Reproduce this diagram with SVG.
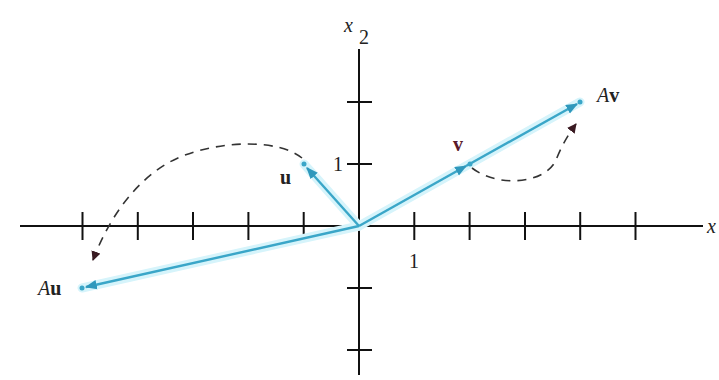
<svg xmlns="http://www.w3.org/2000/svg" width="719" height="380" viewBox="0 0 719 380">
<style>
.ax{stroke:#111;stroke-width:2;fill:none}
.vec{stroke:#3aa6c8;stroke-width:2.4;fill:none}
.glow{stroke:#d6f4fb;stroke-width:9;fill:none;stroke-linecap:round}
.dash{stroke:#333;stroke-width:1.6;fill:none;stroke-dasharray:9 7}
.t{font-family:"Liberation Serif","Times New Roman",serif;font-size:20px;fill:#222}
.b{font-weight:bold}
.dot{fill:#3aa6c8}
</style>
<defs>
<marker id="va" viewBox="0 0 10 10" refX="9" refY="5" markerWidth="5" markerHeight="5" orient="auto" markerUnits="strokeWidth">
<path d="M0,1 L10,5 L0,9 Z" fill="#2f98bc"/>
</marker>
<marker id="da" viewBox="0 0 10 10" refX="9" refY="5" markerWidth="6" markerHeight="6" orient="auto" markerUnits="strokeWidth">
<path d="M0,0 L10,5 L0,10 Z" fill="#3a1a22"/>
</marker>
</defs>
<g id="axes">
<line class="ax" x1="20" y1="226" x2="703" y2="226"/>
<line class="ax" x1="359" y1="49" x2="359" y2="375"/>
<g class="ax">
<line x1="82.5" y1="212" x2="82.5" y2="240"/>
<line x1="137.8" y1="212" x2="137.8" y2="240"/>
<line x1="193" y1="212" x2="193" y2="240"/>
<line x1="248.4" y1="212" x2="248.4" y2="240"/>
<line x1="303.7" y1="212" x2="303.7" y2="240"/>
<line x1="414.3" y1="212" x2="414.3" y2="240"/>
<line x1="469.6" y1="212" x2="469.6" y2="240"/>
<line x1="525" y1="212" x2="525" y2="240"/>
<line x1="580.2" y1="212" x2="580.2" y2="240"/>
<line x1="635.5" y1="212" x2="635.5" y2="240"/>
<line x1="347" y1="102" x2="372" y2="102"/>
<line x1="347" y1="164" x2="372" y2="164"/>
<line x1="347" y1="288" x2="372" y2="288"/>
<line x1="347" y1="350" x2="372" y2="350"/>
</g>
<text class="t" x="707" y="233" font-style="italic">x</text>
<text class="t" x="344" y="32" font-style="italic">x</text>
<text class="t" x="359" y="44" font-size="14">2</text>
<text class="t" x="333" y="171">1</text>
<text class="t" x="409" y="268">1</text>
</g>
<g id="connectors">
<line class="glow" x1="359" y1="226" x2="304" y2="164"/>
<line class="glow" x1="359" y1="226" x2="82" y2="288"/>
<line class="glow" x1="359" y1="226" x2="580" y2="102"/>
<line class="vec" x1="359" y1="226" x2="307" y2="168" marker-end="url(#va)"/>
<line class="vec" x1="359" y1="226" x2="86" y2="287" marker-end="url(#va)"/>
<line class="vec" x1="359" y1="226" x2="466" y2="166" marker-end="url(#va)"/>
<line class="vec" x1="466" y1="166" x2="577" y2="104" marker-end="url(#va)"/>
<path class="dash" d="M302,158 C280,140 225,139 180,157 C140,174 110,215 93,260" marker-end="url(#da)"/>
<path class="dash" d="M472,168 C498,188 545,184 556,160 Q564,140 576,124" marker-end="url(#da)"/>
</g>
<g id="u"><circle class="dot" cx="304" cy="164" r="2.5"/><text class="t b" x="280" y="184">u</text></g>
<g id="Au"><circle class="dot" cx="82" cy="288" r="2.5"/><text class="t" x="38" y="295"><tspan font-style="italic">A</tspan><tspan font-weight="bold">u</tspan></text></g>
<g id="v"><circle class="dot" cx="470" cy="164" r="2.5"/><text class="t b" x="453" y="151" style="fill:#5a1a2a">v</text></g>
<g id="Av"><circle class="dot" cx="580" cy="102" r="2.5"/><text class="t" x="597" y="102"><tspan font-style="italic">A</tspan><tspan font-weight="bold">v</tspan></text></g>
</svg>
